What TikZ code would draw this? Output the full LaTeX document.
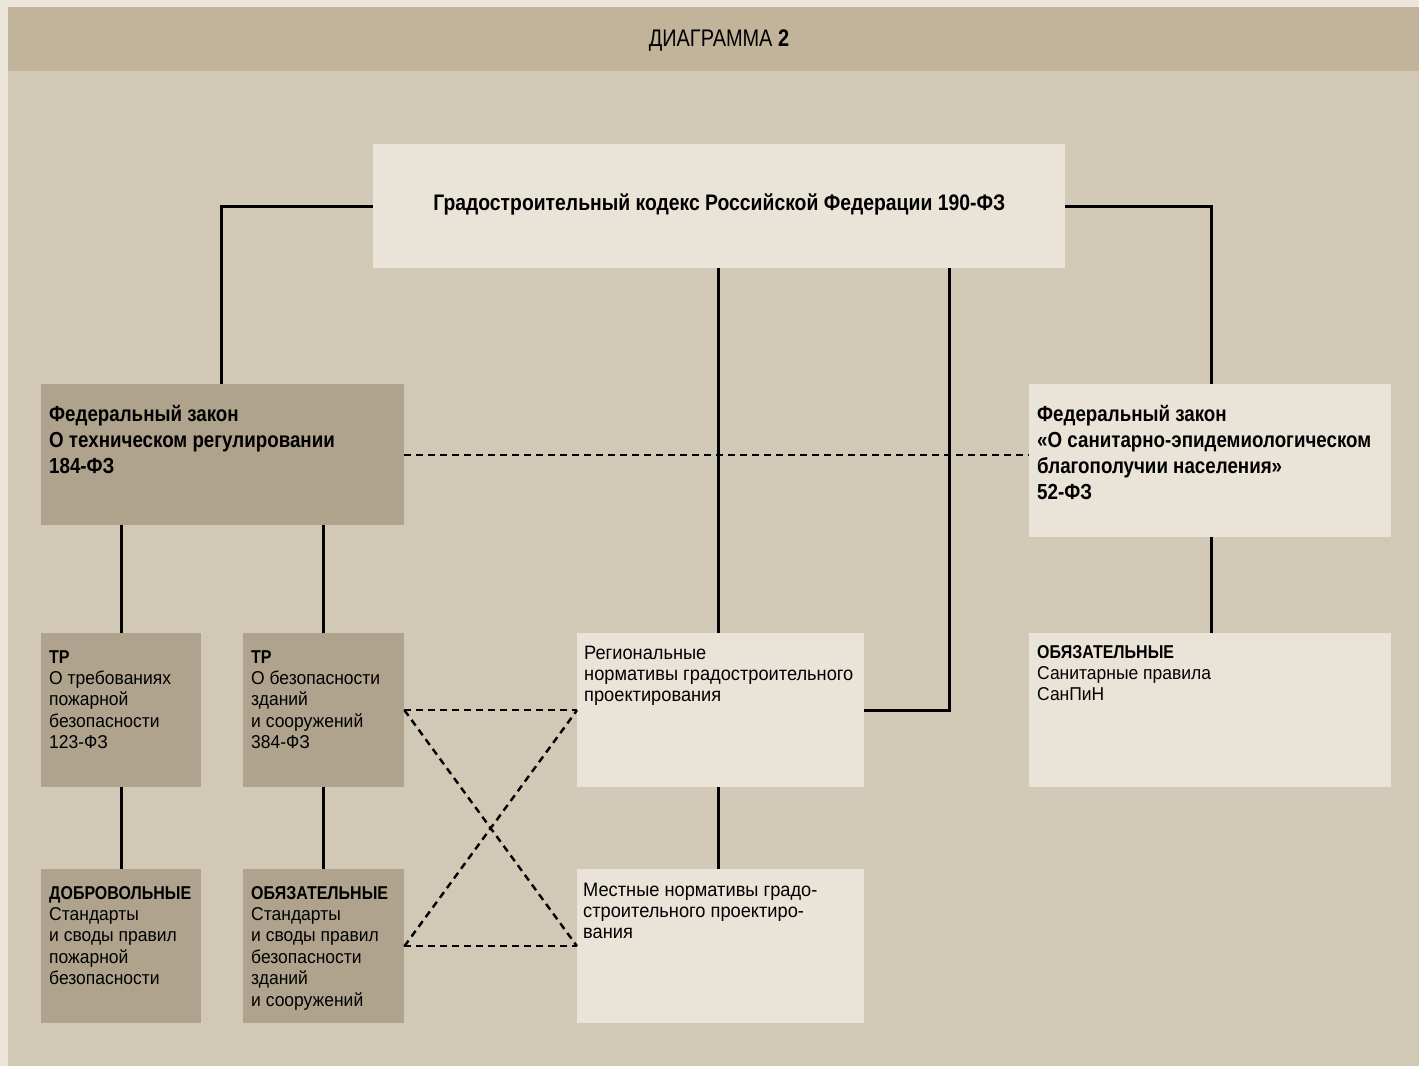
\documentclass[tikz,border=0pt]{standalone}
\usepackage{fontspec}
\setmainfont{Liberation Sans}[UprightFeatures={FakeStretch=0.94}, BoldFeatures={FakeStretch=0.86}]
\newfontfamily\hdfont{Liberation Sans}[FakeStretch=0.83]
\definecolor{outerc}{HTML}{ECE5DA}
\definecolor{headc}{HTML}{C2B49A}
\definecolor{bodyc}{HTML}{D1C8B5}
\definecolor{darkbox}{HTML}{AFA38D}
\definecolor{lightbox}{HTML}{EAE4D8}
\newcommand{\ltab}[1]{\begin{tabular}[t]{@{}l@{}}#1\end{tabular}}
\tikzset{
  dbox/.style={fill=darkbox, draw=none, inner sep=0pt, anchor=north west},
  lbox/.style={fill=lightbox, draw=none, inner sep=0pt, anchor=north west},
  txt/.style={inner sep=0pt, anchor=base west, font=\fontsize{18.6}{21.4}\selectfont},
  rtxt/.style={inner sep=0pt, anchor=base west, font=\fontsize{19.4}{21.4}\selectfont},
  btxt/.style={inner sep=0pt, anchor=base west, font=\fontsize{21.8}{26}\selectfont\bfseries},
  conn/.style={draw=black, line width=2.6pt},
  dconn/.style={draw=black, line width=2.4pt, dash pattern=on 7pt off 5pt},
}
\begin{document}
\begin{tikzpicture}[x=1pt,y=-1pt]
\useasboundingbox (0,0) rectangle (1419,1066);
\fill[outerc] (0,0) rectangle (1419,1066);
\fill[headc] (8,7) rectangle (1419,71);
\fill[bodyc] (8,71) rectangle (1419,1066);
\node[inner sep=0pt, anchor=base, font=\fontsize{24}{28}\selectfont\hdfont] (title) at (719,46.5) {ДИАГРАММА \textbf{2}};

% boxes
\node[lbox, minimum width=692pt, minimum height=124pt] (top) at (373,144) {};
\node[dbox, minimum width=363pt, minimum height=141pt] (fedL) at (41,384) {};
\node[lbox, minimum width=362pt, minimum height=153pt] (fedR) at (1029,384) {};
\node[dbox, minimum width=160pt, minimum height=154pt] (trA) at (41,633) {};
\node[dbox, minimum width=161pt, minimum height=154pt] (trB) at (243,633) {};
\node[dbox, minimum width=160pt, minimum height=154pt] (volA) at (41,869) {};
\node[dbox, minimum width=161pt, minimum height=154pt] (obB) at (243,869) {};
\node[lbox, minimum width=287pt, minimum height=154pt] (reg) at (577,633) {};
\node[lbox, minimum width=287pt, minimum height=154pt] (loc) at (577,869) {};
\node[lbox, minimum width=362pt, minimum height=154pt] (san) at (1029,633) {};

% texts
\node[inner sep=0pt, anchor=base, font=\fontsize{22.5}{26}\selectfont\bfseries] (topT) at ([yshift=-4.7pt]top.center) {Градостроительный кодекс Российской Федерации 190-ФЗ};
\node[btxt] (fedLT) at (49,421.5) {\ltab{Федеральный закон\\О техническом регулировании\\184-ФЗ}};
\node[btxt] (fedRT) at (1037,421.5) {\ltab{Федеральный закон\\«О санитарно-эпидемиологическом\\благополучии населения»\\52-ФЗ}};
\node[txt] (trAT) at (49,663) {\ltab{\textbf{ТР}\\О требованиях\\пожарной\\безопасности\\123-ФЗ}};
\node[txt] (trBT) at (251,663) {\ltab{\textbf{ТР}\\О безопасности\\зданий\\и сооружений\\384-ФЗ}};
\node[txt] (volAT) at (49,899) {\ltab{\textbf{ДОБРОВОЛЬНЫЕ}\\Стандарты\\и своды правил\\пожарной\\безопасности}};
\node[txt] (obBT) at (251,899) {\ltab{\textbf{ОБЯЗАТЕЛЬНЫЕ}\\Стандарты\\и своды правил\\безопасности\\зданий\\и сооружений}};
\node[rtxt] (regT) at (584,659) {\ltab{Региональные\\нормативы градостроительного\\проектирования}};
\node[rtxt] (locT) at (583,896) {\ltab{Местные нормативы градо-\\строительного проектиро-\\вания}};
\node[txt] (sanT) at (1037,658) {\ltab{\textbf{ОБЯЗАТЕЛЬНЫЕ}\\Санитарные правила\\СанПиН}};

% connectors
\draw[conn] (top.west) -| ([xshift=-1.5pt]fedL.north);
\draw[conn] (top.east) -| ([xshift=1.5pt]fedR.north);
\draw[conn] ([xshift=-2pt]reg.north) -- ([xshift=-2pt]reg.north |- top.south);
\draw[conn] ([xshift=230pt]top.south) |- (reg.east);
\draw[conn] (trA.north) -- (trA.north |- fedL.south);
\draw[conn] (trB.north) -- (trB.north |- fedL.south);
\draw[conn] (trA.south) -- (volA.north);
\draw[conn] (trB.south) -- (obB.north);
\draw[conn] ([xshift=-2pt]reg.south) -- ([xshift=-2pt]loc.north);
\draw[conn] ([xshift=1.5pt]fedR.south) -- ([xshift=1.5pt]san.north);

\draw[dconn] (fedL.east) -- (fedL.east -| fedR.west);
\draw[dconn] (trB.east) -- (reg.west);
\draw[dconn] (obB.east) -- (loc.west);
\draw[dconn] (trB.east) -- (loc.west);
\draw[dconn] (obB.east) -- (reg.west);
\end{tikzpicture}
\end{document}
